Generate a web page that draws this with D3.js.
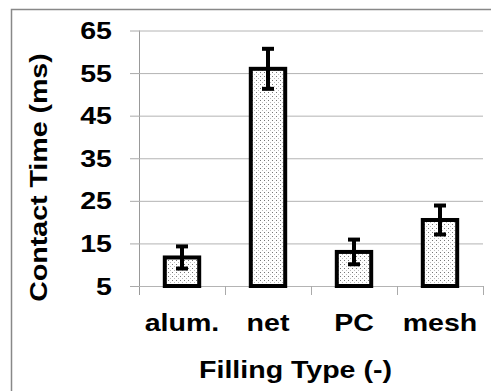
<!DOCTYPE html>
<html>
<head>
<meta charset="utf-8">
<script src="https://cdn.jsdelivr.net/npm/d3@7"></script>
<style>
  body { margin: 0; background: #fff; }
</style>
</head>
<body>
<div id="chart"></div>
<script>
// Data
const categories = ['alum.', 'net', 'PC', 'mesh'];
const contactTime = [11.7, 56.0, 13.0, 20.5];
const errorBars = [2.6, 4.7, 2.9, 3.4];
const yTicks = [5, 15, 25, 35, 45, 55, 65];

const width = 491;
const height = 391;
const margin = ({top: 30.5, right: 8, bottom: 105, left: 139});
const font = "'Liberation Sans', Arial, sans-serif";
const fontSize = 24;
const stretch = 1.19;   // the reference lettering is wider than plain Arial

const data = categories.map((c, i) => ({cat: c, value: contactTime[i], err: errorBars[i]}));

const svg = d3.select('#chart').append('svg')
    .attr('width', width)
    .attr('height', height)
    .attr('viewBox', [0, 0, width, height]);

// dotted fill of the bars
const pat = svg.append('defs').append('pattern')
    .attr('id', 'dots')
    .attr('patternUnits', 'userSpaceOnUse')
    .attr('width', 4)
    .attr('height', 4);
pat.append('rect').attr('width', 4).attr('height', 4).attr('fill', '#fff');
pat.append('rect').attr('x', 0).attr('y', 0).attr('width', 1).attr('height', 1).attr('fill', '#777');
pat.append('rect').attr('x', 2).attr('y', 2).attr('width', 1).attr('height', 1).attr('fill', '#bbb');

// outer frame
svg.append('rect')
    .attr('x', 11.5).attr('y', 9.5)
    .attr('width', width).attr('height', height)
    .attr('fill', 'none')
    .attr('stroke', '#888')
    .attr('stroke-width', 1.5);

const x = d3.scaleBand()
    .domain(categories)
    .range([margin.left, width - margin.right]);

const y = d3.scaleLinear()
    .domain([5, 65])
    .range([height - margin.bottom, margin.top]);

const label = (g, tr, anchor, txt) => g.append('text')
    .attr('transform', tr)
    .attr('text-anchor', anchor)
    .attr('font-family', font)
    .attr('font-weight', 'bold')
    .attr('font-size', fontSize)
    .attr('fill', '#000')
    .text(txt);

// gridlines + y axis
const yAxis = g => g
    .attr('transform', `translate(${margin.left},0)`)
    .call(d3.axisLeft(y).tickValues(yTicks).tickSize(9).tickFormat(''))
    .call(g => g.select('.domain').attr('stroke', '#999').attr('d', `M0.5,${y(65)}V${y(5) + 9}`))
    .call(g => g.selectAll('.tick line').attr('stroke', '#aaa'))
    .call(g => g.selectAll('.tick').append('line')
        .attr('x1', 0).attr('x2', width - margin.right - margin.left)
        .attr('stroke', '#b4b4b4'));

svg.append('g').call(yAxis);

const yLabels = svg.append('g');
yTicks.forEach(t => label(yLabels, `translate(112,${y(t) + 8.5}) scale(${stretch},1)`, 'end', t));

// x axis: ticks between categories
svg.append('g')
    .attr('transform', `translate(0,${y(5)})`)
    .selectAll('line')
    .data(categories)
    .join('line')
    .attr('x1', d => x(d) + x.bandwidth() + 0.5)
    .attr('x2', d => x(d) + x.bandwidth() + 0.5)
    .attr('y1', 0).attr('y2', 9)
    .attr('stroke', '#aaa');

const xLabels = svg.append('g');
categories.forEach(c => label(xLabels, `translate(${x(c) + x.bandwidth() / 2},331) scale(${stretch},1)`, 'middle', c));

// bars
const barW = x.bandwidth() * 0.4;
svg.append('g')
    .selectAll('rect')
    .data(data)
    .join('rect')
    .attr('x', d => x(d.cat) + (x.bandwidth() - barW) / 2)
    .attr('y', d => y(d.value))
    .attr('width', barW)
    .attr('height', d => y(5) - y(d.value))
    .attr('fill', 'url(#dots)')
    .attr('stroke', '#000')
    .attr('stroke-width', 4);

// error bars
const eb = svg.append('g')
    .attr('stroke', '#000')
    .attr('stroke-width', 4)
    .selectAll('g')
    .data(data)
    .join('g')
    .attr('transform', d => `translate(${x(d.cat) + x.bandwidth() / 2},0)`);

eb.append('line')
    .attr('y1', d => y(d.value + d.err))
    .attr('y2', d => y(d.value - d.err));
eb.append('line')
    .attr('x1', -6).attr('x2', 6)
    .attr('y1', d => y(d.value + d.err))
    .attr('y2', d => y(d.value + d.err));
eb.append('line')
    .attr('x1', -6).attr('x2', 6)
    .attr('y1', d => y(d.value - d.err))
    .attr('y2', d => y(d.value - d.err));

// axis titles
label(svg, `translate(295.5,378) scale(${stretch},1)`, 'middle', 'Filling Type (-)');
label(svg, `translate(47,177.5) rotate(-90) scale(${stretch},1)`, 'middle', 'Contact Time (ms)');
</script>
</body>
</html>
